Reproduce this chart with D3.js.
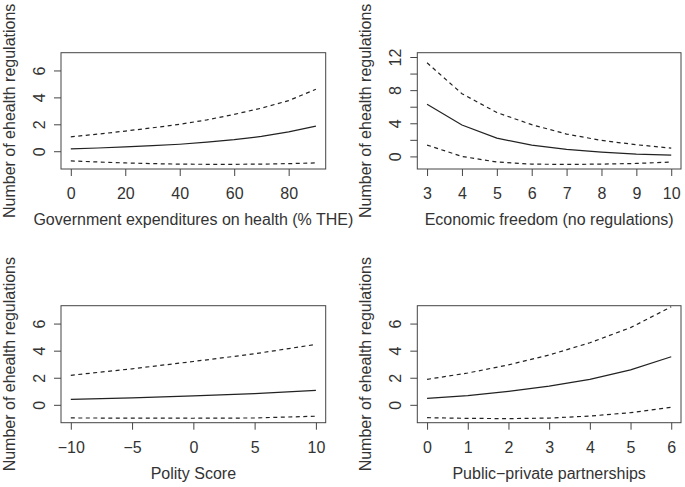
<!DOCTYPE html>
<html>
<head>
<meta charset="utf-8">
<script src="https://cdn.jsdelivr.net/npm/d3@7"></script>
<style>
  html, body { margin: 0; padding: 0; background: #fff; }
  svg { display: block; }
  text { font-family: "Liberation Sans", Arial, Helvetica, sans-serif; fill: #333; }
</style>
</head>
<body>
<svg id="chart" width="685" height="487"></svg>
<script>
// ---------- data ----------
const yTitle = "Number of ehealth regulations";

// Panel 1: Government expenditures on health
const govX     = [0, 10, 20, 30, 40, 50, 60, 70, 80, 90];
const govFit   = [0.17, 0.24, 0.32, 0.41, 0.52, 0.67, 0.86, 1.10, 1.44, 1.87];
const govUpper = [1.07, 1.27, 1.50, 1.74, 2.00, 2.33, 2.74, 3.20, 3.76, 4.60];
const govLower = [-0.72, -0.80, -0.87, -0.92, -0.96, -0.97, -0.97, -0.96, -0.92, -0.87];
const govXTicks = [0, 20, 40, 60, 80];
const govYTicks = [0, 2, 4, 6];

// Panel 2: Economic freedom
const efX     = [3, 4, 5, 6, 7, 8, 9, 10];
const efFit   = [6.30, 3.79, 2.20, 1.37, 0.85, 0.52, 0.28, 0.16];
const efUpper = [11.3, 7.57, 5.30, 3.83, 2.70, 1.93, 1.41, 1.00];
const efLower = [1.37, 0.00, -0.68, -0.93, -0.97, -0.93, -0.85, -0.68];
const efXTicks = [3, 4, 5, 6, 7, 8, 9, 10];
const efYTicks = [0, 2, 4, 6, 8, 10, 12];
const efYLabels = [0, 4, 8, 12];

// Panel 3: Polity score
const polX     = [-10, -5, 0, 5, 10];
const polFit   = [0.40, 0.52, 0.66, 0.83, 1.07];
const polUpper = [2.18, 2.66, 3.20, 3.77, 4.46];
const polLower = [-0.97, -0.98, -0.99, -0.97, -0.84];
const polXTicks = [-10, -5, 0, 5, 10];
const polYTicks = [0, 2, 4, 6];

// Panel 4: Public-private partnerships
const pppX     = [0, 1, 2, 3, 4, 5, 6];
const pppFit   = [0.48, 0.68, 1.00, 1.38, 1.88, 2.58, 3.55];
const pppUpper = [1.88, 2.35, 2.95, 3.68, 4.58, 5.70, 7.24];
const pppLower = [-0.95, -1.00, -1.02, -0.98, -0.83, -0.58, -0.18];
const pppXTicks = [0, 1, 2, 3, 4, 5, 6];
const pppYTicks = [0, 2, 4, 6];

const panels = [
  { title: "Government expenditures on health (% THE)", x: govX, fit: govFit, up: govUpper, lo: govLower,
    xlim: [0, 90], ylim: [-1, 7], xTicks: govXTicks, yTicks: govYTicks, yLabels: govYTicks,
    box: [61, 52.7, 325.7, 169] },
  { title: "Economic freedom (no regulations)", x: efX, fit: efFit, up: efUpper, lo: efLower,
    xlim: [3, 10], ylim: [-1, 12], xTicks: efXTicks, yTicks: efYTicks, yLabels: efYLabels,
    box: [417.3, 52.7, 681, 169] },
  { title: "Polity Score", x: polX, fit: polFit, up: polUpper, lo: polLower,
    xlim: [-10, 10], ylim: [-1, 7], xTicks: polXTicks, yTicks: polYTicks, yLabels: polYTicks,
    box: [61, 305.7, 325.7, 422.7] },
  { title: "Public\u2212private partnerships", x: pppX, fit: pppFit, up: pppUpper, lo: pppLower,
    xlim: [0, 6], ylim: [-1, 7], xTicks: pppXTicks, yTicks: pppYTicks, yLabels: pppYTicks,
    box: [417.3, 305.7, 681, 422.7] }
];

// ---------- drawing ----------
const svg = d3.select("#chart");
const fmt = v => (v < 0 ? "\u2212" + Math.abs(v) : String(v));
const pad = lim => { const r = lim[1] - lim[0]; return [lim[0] - 0.04 * r, lim[1] + 0.04 * r]; };

panels.forEach(p => {
  const [x0, y0, x1, y1] = p.box;
  const xs = d3.scaleLinear().domain(pad(p.xlim)).range([x0, x1]);
  const ys = d3.scaleLinear().domain(pad(p.ylim)).range([y1, y0]);
  const g = svg.append("g");

  // x axis
  const xa = g.append("g").attr("transform", `translate(0,${y1})`)
    .call(d3.axisBottom(xs).tickValues(p.xTicks).tickSize(7).tickSizeOuter(0).tickFormat(fmt));
  xa.select(".domain").remove();
  xa.selectAll(".tick line").attr("stroke", "#444");
  xa.selectAll(".tick text").attr("y", 30).attr("dy", 0)
    .style("font-size", "16px").style("fill", "#333").attr("fill", "#333")
    .style("font-family", "'Liberation Sans', Arial, sans-serif");

  // y axis
  const ya = g.append("g").attr("transform", `translate(${x0},0)`)
    .call(d3.axisLeft(ys).tickValues(p.yTicks).tickSize(7).tickSizeOuter(0)
      .tickFormat(v => p.yLabels.includes(v) ? fmt(v) : ""));
  ya.select(".domain").remove();
  ya.selectAll(".tick line").attr("stroke", "#444");
  ya.selectAll(".tick text").attr("transform", "rotate(-90)")
    .attr("x", 0).attr("y", -16.5).attr("dy", 0).attr("text-anchor", "middle")
    .style("font-size", "16px").attr("fill", "#333")
    .style("font-family", "'Liberation Sans', Arial, sans-serif");

  // box
  g.append("rect").attr("x", x0).attr("y", y0).attr("width", x1 - x0).attr("height", y1 - y0)
    .attr("fill", "none").attr("stroke", "#444").attr("stroke-width", 1);

  // lines
  const line = arr => d3.line().x((d, i) => xs(p.x[i])).y(d => ys(d))(arr);
  g.append("path").attr("d", line(p.fit)).attr("fill", "none")
    .attr("stroke", "#222").attr("stroke-width", 1.2);
  [p.up, p.lo].forEach(arr => {
    g.append("path").attr("d", line(arr)).attr("fill", "none")
      .attr("stroke", "#222").attr("stroke-width", 1.2).attr("stroke-dasharray", "4,3.5");
  });

  // titles
  g.append("text").attr("x", (x0 + x1) / 2).attr("y", y1 + 56)
    .attr("text-anchor", "middle").style("font-size", "16px").text(p.title);
  g.append("text").attr("transform", `translate(${x0 - 46.5},${(y0 + y1) / 2}) rotate(-90)`)
    .attr("text-anchor", "middle").style("font-size", "16px").text(yTitle);
});
</script>
</body>
</html>
